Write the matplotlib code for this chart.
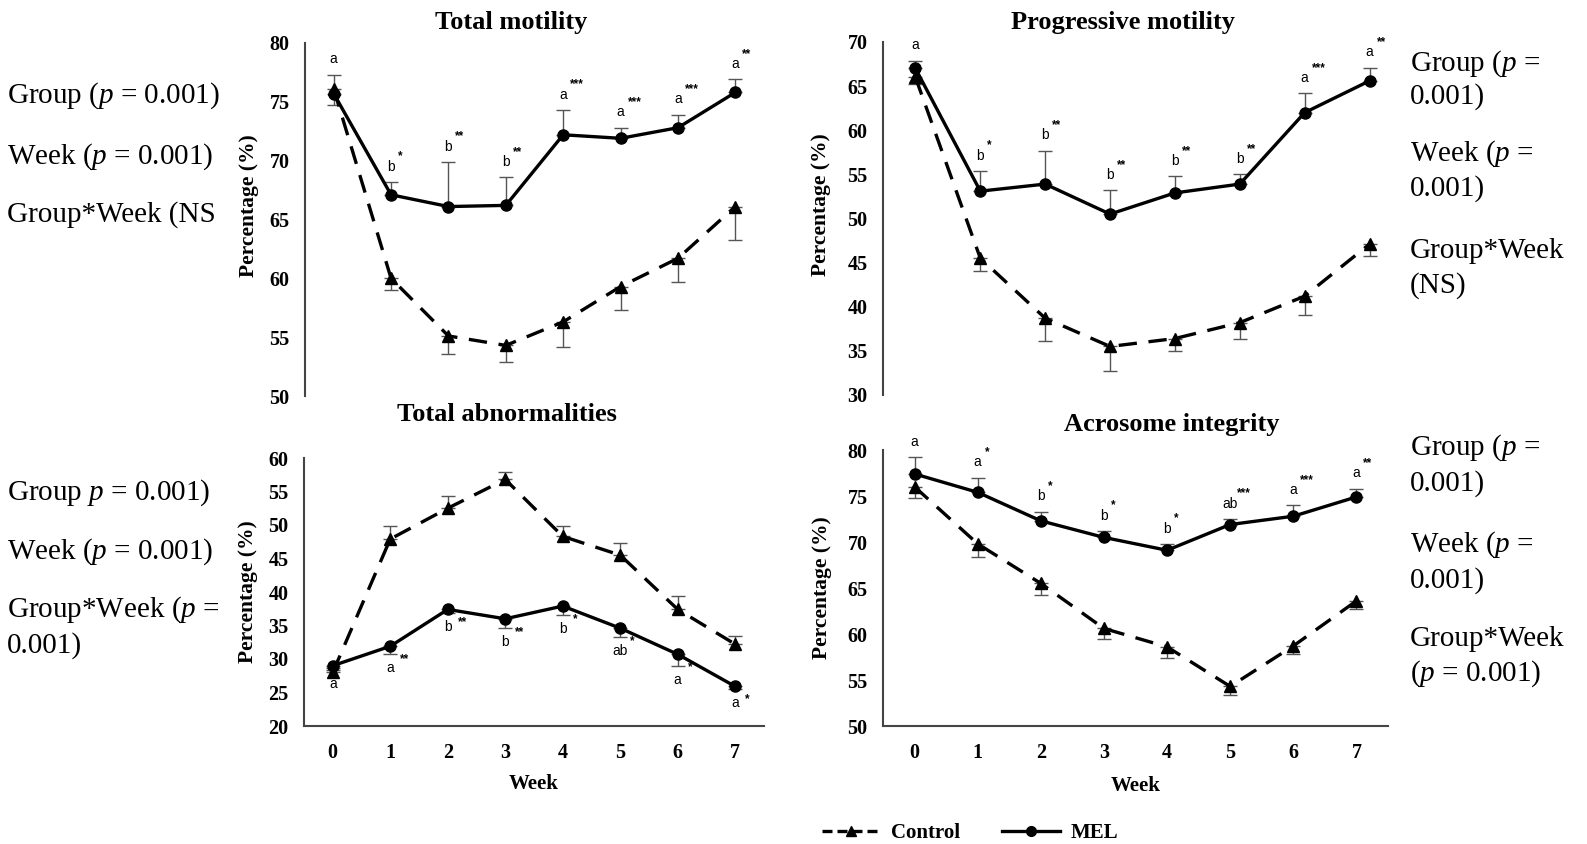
import numpy as np
import matplotlib
matplotlib.use('Agg')
import matplotlib.pyplot as plt
from matplotlib.lines import Line2D

plt.rcParams['font.family'] = ['Liberation Serif', 'DejaVu Sans']
plt.rcParams['mathtext.fontset'] = 'custom'
plt.rcParams['mathtext.rm'] = 'Liberation Serif'
plt.rcParams['mathtext.it'] = 'Liberation Serif:italic'

# Data (mean and one-sided SE per week).
weeks = [0, 1, 2, 3, 4, 5, 6, 7]

tm_mel = [75.7, 67.1, 66.1, 66.2, 72.2, 71.9, 72.8, 75.8]
tm_mel_err = [1.6, 1.1, 3.8, 2.4, 2.1, 0.9, 1.1, 1.1]
tm_ctrl = [76.1, 60.0, 55.1, 54.3, 56.3, 59.3, 61.7, 66.1]
tm_ctrl_err = [1.4, 1.0, 1.5, 1.4, 2.1, 2.0, 2.0, 2.8]
tm_letters = ['a', 'b', 'b', 'b', 'a', 'a', 'a', 'a']
tm_stars = ['', '*', '**', '**', '***', '***', '***', '**']

pm_mel = [67.0, 53.1, 53.9, 50.5, 52.9, 53.9, 62.0, 65.6]
pm_mel_err = [0.9, 2.3, 3.8, 2.7, 1.9, 1.1, 2.2, 1.5]
pm_ctrl = [66.0, 45.5, 38.7, 35.5, 36.4, 38.2, 41.2, 47.1]
pm_ctrl_err = [0.8, 1.4, 2.6, 2.8, 1.4, 1.9, 2.1, 1.3]
pm_letters = ['a', 'b', 'b', 'b', 'b', 'b', 'a', 'a']
pm_stars = ['', '*', '**', '**', '**', '**', '***', '**']

ta_mel = [29.0, 31.9, 37.4, 36.0, 37.9, 34.6, 30.7, 25.9]
ta_mel_err = [0.6, 1.1, 0.6, 1.4, 1.4, 1.3, 1.7, 0.4]
ta_ctrl = [28.0, 47.9, 52.5, 56.8, 48.3, 45.5, 37.4, 32.2]
ta_ctrl_err = [0.6, 1.9, 1.9, 1.1, 1.5, 1.8, 2.0, 1.2]
ta_letters = ['a', 'a', 'b', 'b', 'b', 'ab', 'a', 'a']
ta_stars = ['', '**', '**', '**', '*', '*', '*', '*']

ai_mel = [77.4, 75.4, 72.3, 70.5, 69.1, 71.9, 72.8, 74.9]
ai_mel_err = [1.8, 1.6, 1.0, 0.7, 0.7, 0.6, 1.2, 0.9]
ai_ctrl = [76.0, 69.8, 65.5, 60.6, 58.6, 54.3, 58.7, 63.6]
ai_ctrl_err = [1.2, 1.4, 1.3, 1.1, 1.2, 0.9, 0.9, 0.9]
ai_letters = ['a', 'a', 'b', 'b', 'b', 'ab', 'a', 'a']
ai_stars = ['', '*', '*', '*', '*', '***', '***', '**']

left_top_notes = ['Group ($\\mathit{p}$ = 0.001)', 'Week ($\\mathit{p}$ = 0.001)', 'Group*Week (NS']
left_bottom_notes = ['Group $\\mathit{p}$ = 0.001)', 'Week ($\\mathit{p}$ = 0.001)',
                     'Group*Week ($\\mathit{p}$ =', '0.001)']
right_top_notes = ['Group ($\\mathit{p}$ =', '0.001)', 'Week ($\\mathit{p}$ =', '0.001)',
                   'Group*Week', '(NS)']
right_bottom_notes = ['Group ($\\mathit{p}$ =', '0.001)', 'Week ($\\mathit{p}$ =', '0.001)',
                      'Group*Week', '($\\mathit{p}$ = 0.001)']

W, H = 1587, 844
fig = plt.figure(figsize=(W / 100, H / 100), dpi=100)


def px_axes(left, right, top, bottom):
    return fig.add_axes([left / W, 1 - bottom / H, (right - left) / W, (bottom - top) / H])


def draw_panel(ax, mel, mel_err, ctrl, ctrl_err, letters, stars, ylim, yticks,
               show_x, mel_up=True, ylabel_y=0.5):
    zeros = [0] * len(weeks)
    mel_yerr = [zeros, mel_err] if mel_up else [mel_err, zeros]
    ctrl_yerr = [ctrl_err, zeros] if mel_up else [zeros, ctrl_err]
    ax.errorbar(weeks, ctrl, yerr=ctrl_yerr, fmt='none', ecolor='#555555',
                elinewidth=1, capsize=5, capthick=1, zorder=2)
    ax.errorbar(weeks, mel, yerr=mel_yerr, fmt='none', ecolor='#555555',
                elinewidth=1, capsize=5, capthick=1, zorder=2)
    ax.plot(weeks, ctrl, color='black', lw=2.4, dashes=(5.5, 3.5),
            marker='^', markersize=8, zorder=3)
    ax.plot(weeks, mel, color='black', lw=2.4, marker='o', markersize=8, zorder=4)

    # Letters (within-group) and asterisks (between-group) next to the MEL points.
    for w, m, e, let, st in zip(weeks, mel, mel_err, letters, stars):
        if mel_up:
            ax.annotate(let, xy=(w, m + e), xytext=(0, 6), textcoords='offset points',
                        ha='center', va='bottom', fontsize=10, family='Liberation Sans',
                        zorder=6)
            if st:
                ax.annotate(st, xy=(w, m + e), xytext=(5, 14), textcoords='offset points',
                            ha='left', va='bottom', fontsize=8.5, fontweight='bold',
                            family='Liberation Sans', zorder=6)
        else:
            ax.annotate(let, xy=(w, m - e), xytext=(0, -5), textcoords='offset points',
                        ha='center', va='top', fontsize=10, family='Liberation Sans',
                        zorder=6)
            if st:
                ax.annotate(st, xy=(w, m), xytext=(7, -5), textcoords='offset points',
                            ha='left', va='top', fontsize=8.5, fontweight='bold',
                            family='Liberation Sans', zorder=6)

    ax.set_xlim(-0.5, 7.5)
    ax.set_ylim(*ylim)
    ax.set_yticks(yticks)
    ax.set_xticks(weeks)
    for s in ['top', 'right']:
        ax.spines[s].set_visible(False)
    ax.spines['left'].set_color('#444444')
    ax.spines['left'].set_linewidth(1.5)
    ax.tick_params(axis='both', length=0, labelsize=14.5)
    ax.tick_params(axis='y', pad=11)
    ax.tick_params(axis='x', pad=12)
    for lab in ax.get_yticklabels() + ax.get_xticklabels():
        lab.set_fontweight('bold')
    if show_x:
        ax.spines['bottom'].set_color('#444444')
        ax.spines['bottom'].set_linewidth(1.5)
        ax.set_xlabel('Week', fontsize=15, fontweight='bold')
        ax.xaxis.set_label_coords(0.5, -0.18)
    else:
        ax.spines['bottom'].set_visible(False)
        ax.set_xticklabels([])
    ax.set_ylabel('Percentage (%)', fontsize=15.5, fontweight='bold')
    ax.yaxis.set_label_coords(-0.1, ylabel_y)


ax_tm = px_axes(305, 764, 43, 396)
draw_panel(ax_tm, tm_mel, tm_mel_err, tm_ctrl, tm_ctrl_err, tm_letters, tm_stars,
           (50, 80), np.arange(50, 81, 5), False, ylabel_y=0.54)

ax_pm = px_axes(883, 1402, 42, 395)
draw_panel(ax_pm, pm_mel, pm_mel_err, pm_ctrl, pm_ctrl_err, pm_letters, pm_stars,
           (30, 70), np.arange(30, 71, 5), False, ylabel_y=0.54)

ax_ta = px_axes(304, 764, 458, 726)
draw_panel(ax_ta, ta_mel, ta_mel_err, ta_ctrl, ta_ctrl_err, ta_letters, ta_stars,
           (20, 60), np.arange(20, 61, 5), True, mel_up=False)

ax_ai = px_axes(883, 1388, 450, 726)
draw_panel(ax_ai, ai_mel, ai_mel_err, ai_ctrl, ai_ctrl_err, ai_letters, ai_stars,
           (50, 80), np.arange(50, 81, 5), True)

# Panel titles
title_kw = dict(fontsize=19, fontweight='bold', ha='center', va='center')
fig.text(511 / W, 1 - 22 / H, 'Total motility', **title_kw)
fig.text(1123 / W, 1 - 22 / H, 'Progressive motility', **title_kw)
fig.text(507 / W, 1 - 415 / H, 'Total abnormalities', **title_kw)
fig.text(1172 / W, 1 - 425 / H, 'Acrosome integrity', **title_kw)

# Side notes with the ANOVA results
note_kw = dict(fontsize=21, ha='left', va='center')
for txt, y in zip(left_top_notes, [96, 157, 215]):
    fig.text(7 / W, 1 - y / H, txt, **note_kw)
for txt, y in zip(left_bottom_notes, [493, 552, 610, 646]):
    fig.text(7 / W, 1 - y / H, txt, **note_kw)
for txt, y in zip(right_top_notes, [64, 97, 154, 189, 251, 286]):
    fig.text(1410 / W, 1 - y / H, txt, **note_kw)
for txt, y in zip(right_bottom_notes, [448, 484, 545, 581, 639, 674]):
    fig.text(1410 / W, 1 - y / H, txt, **note_kw)

handles = [
    Line2D([], [], color='black', lw=2.4, dashes=(3, 1.5), marker='^', markersize=7),
    Line2D([], [], color='black', lw=2.4, marker='o', markersize=7),
]
fig.legend(handles, ['Control', 'MEL'], loc='center', bbox_to_anchor=(970 / W, 1 - 833 / H),
           ncol=2, frameon=False, handlelength=2.8, handletextpad=0.5, columnspacing=2.0,
           prop={'family': 'Liberation Serif', 'weight': 'bold', 'size': 15})

fig.savefig('out.png', dpi=100)
